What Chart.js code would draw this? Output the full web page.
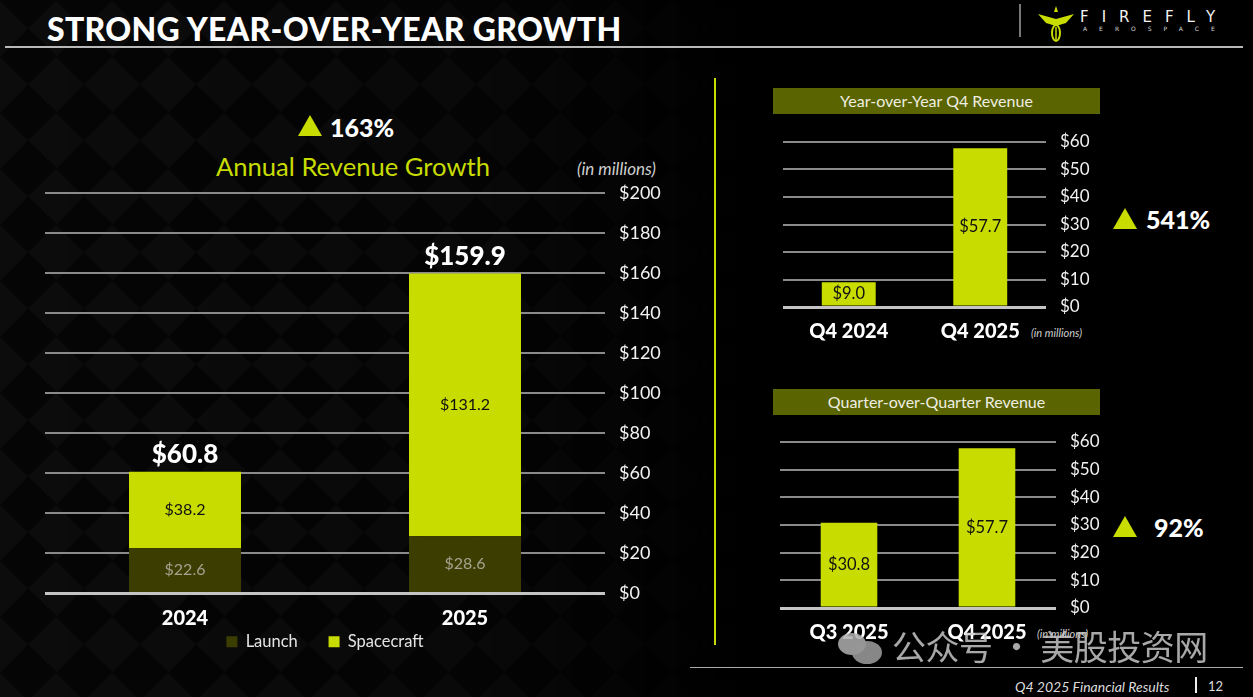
<!DOCTYPE html>
<html>
<head>
<meta charset="utf-8">
<script src="https://cdn.jsdelivr.net/npm/chart.js@4/dist/chart.umd.min.js"></script>
<style>
  body { margin:0; width:1253px; height:697px; background:#000; overflow:hidden; position:relative; font-family: Lato, "Open Sans", sans-serif; color:#fff; }
  #bg { position:absolute; inset:0; background: conic-gradient(from 45deg, #0c0c0c 25%, #050505 0 50%, #0c0c0c 0 75%, #050505 0); background-size:56px 56px;
        -webkit-mask-image: linear-gradient(to right, #000 0%, rgba(0,0,0,0.7) 40%, transparent 60%); mask-image: linear-gradient(to right, #000 0%, rgba(0,0,0,0.7) 40%, transparent 60%); }
  .abs { position:absolute; }
  #title { left:47px; top:9px; font-size:32px; font-weight:900; letter-spacing:0.3px; white-space:nowrap; }
  #titleLine { left:5px; top:46px; width:1238px; height:2px; background:#b8b8b8; }
  #logoBar { left:1019px; top:4px; width:2px; height:33px; background:#777; }
  #ff { left:1080px; top:8px; font-size:15px; letter-spacing:13px; font-weight:400; font-family:"DejaVu Sans", sans-serif; color:#f2f2f2; }
  #aero { left:1083px; top:25px; font-size:6px; letter-spacing:12px; color:#ddd; font-family:"DejaVu Sans", sans-serif; }
  #divider { left:714px; top:78px; width:2px; height:567px; background:#c8dc00; }
  .tri { width:0; height:0; border-left:12px solid transparent; border-right:12px solid transparent; border-bottom:21px solid #c8dc00; }
  .pct { font-size:25px; font-weight:900; color:#fff; line-height:1; }
  #annual { left:216px; top:151px; font-size:25.6px; color:#c8dc00; white-space:nowrap; }
  .inm { font-style:italic; color:#cfcfcf; white-space:nowrap; }
  .head { background:#5a6400; color:#eeeee0; font-size:16px; text-align:center; line-height:26px; height:26px; width:327px; left:773px; }
  canvas { position:absolute; }
  #footLine { left:690px; top:667px; width:553px; height:1px; background:#aaa; }
  #footTxt { left:1015px; top:678px; font-size:14px; font-style:italic; color:#ddd; }
  #footBar { left:1195px; top:677px; width:2px; height:16px; background:#eee; }
  #pg { left:1208px; top:678px; font-size:13px; color:#ddd; }
  #wm { left:892px; top:626px; font-size:34px; color:rgba(205,205,205,0.82); font-family:"Noto Sans CJK SC", sans-serif; white-space:nowrap; line-height:40px; letter-spacing:-0.5px; }
  .bub { position:absolute; border-radius:50%; background:rgba(175,175,175,0.85); }
</style>
</head>
<body>
<div id="bg" class="abs"></div>

<div id="title" class="abs">STRONG YEAR-OVER-YEAR GROWTH</div>
<div id="titleLine" class="abs"></div>
<div id="logoBar" class="abs"></div>
<svg class="abs" style="left:1038px;top:6px" width="36" height="36" viewBox="0 0 36 36">
  <polygon points="18,0 20,6 16,6" fill="#c8dc00"/>
  <polygon points="0,8 18,13 36,8 28,17 18,20 8,17" fill="#c8dc00"/>
  <ellipse cx="18" cy="27" rx="4" ry="8" fill="none" stroke="#c8dc00" stroke-width="2"/>
  <line x1="18" y1="21" x2="18" y2="34" stroke="#c8dc00" stroke-width="1.5"/>
</svg>
<div id="ff" class="abs">FIREFLY</div>
<div id="aero" class="abs">AEROSPACE</div>

<div class="abs tri" style="left:298px;top:115px"></div>
<div class="abs pct" style="left:330px;top:115px">163%</div>
<div id="annual" class="abs">Annual Revenue Growth</div>
<div class="abs inm" style="left:577px;top:158px;font-size:17px">(in millions)</div>

<div id="divider" class="abs"></div>

<div class="abs head" style="top:88px">Year-over-Year Q4 Revenue</div>
<div class="abs head" style="top:389px">Quarter-over-Quarter Revenue</div>
<div class="abs inm" style="left:1031px;top:326px;font-size:11px">(in millions)</div>
<div class="abs inm" style="left:1037px;top:627px;font-size:11px">(in millions)</div>

<div class="abs tri" style="left:1113px;top:208px"></div>
<div class="abs pct" style="left:1146px;top:207px">541%</div>
<div class="abs tri" style="left:1113px;top:516px"></div>
<div class="abs pct" style="left:1154px;top:515px">92%</div>

<canvas id="annualChart" style="left:45px;top:183px;width:620px;height:477px"></canvas>
<canvas id="yoyChart" style="left:783px;top:132px;width:323px;height:215px"></canvas>
<canvas id="qoqChart" style="left:780px;top:432px;width:336px;height:216px"></canvas>

<div id="footLine" class="abs"></div>
<div id="footTxt" class="abs">Q4 2025 Financial Results</div>
<div id="footBar" class="abs"></div>
<div id="pg" class="abs">12</div>

<div class="bub" style="left:838px;top:633px;width:28px;height:22px"></div>
<div class="bub" style="left:852px;top:641px;width:30px;height:23px;background:rgba(150,150,150,0.9)"></div>
<div id="wm" class="abs">公众号 · 美股投资网</div>

<script>
// annual revenue, in millions
const years = ['2024', '2025'];
const launchRev = [22.6, 28.6];
const spacecraftRev = [38.2, 131.2];
const annualTotals = [60.8, 159.9];

// Q4 year over year
const yoyQuarters = ['Q4 2024', 'Q4 2025'];
const yoyRevenue = [9.0, 57.7];

// quarter over quarter
const qoqQuarters = ['Q3 2025', 'Q4 2025'];
const qoqRevenue = [30.8, 57.7];

const LIME = '#c8dc00';
const OLIVE = '#3b3e00';

// draws "$xx.x" in the middle of each bar, plus stack totals on top
const valueLabels = {
    id: 'valueLabels',
    afterDatasetsDraw(chart, args, opts) {
        const ctx = chart.ctx;
        ctx.save();
        ctx.textAlign = 'center';
        ctx.textBaseline = 'middle';
        chart.data.datasets.forEach((ds, i) => {
            chart.getDatasetMeta(i).data.forEach((bar, j) => {
                ctx.font = opts.font || '16px Lato';
                ctx.fillStyle = ds.labelColor || '#111';
                ctx.fillText('$' + ds.data[j].toFixed(1), bar.x, (bar.y + bar.base) / 2);
            });
        });
        if (opts.totals) {
            const last = chart.getDatasetMeta(chart.data.datasets.length - 1);
            last.data.forEach((bar, j) => {
                ctx.font = '900 26px Lato';
                ctx.fillStyle = '#fff';
                ctx.fillText('$' + opts.totals[j].toFixed(1), bar.x, bar.y - 17);
            });
        }
        ctx.restore();
    }
};

function gridColor(c) { return c.tick && c.tick.value === 0 ? '#c4c4c4' : '#8a8a8a'; }
function gridWidth(c) { return c.tick && c.tick.value === 0 ? 3 : 2; }

function yAxis(max, step, fontSize, w) {
    return {
        position: 'right', min: 0, max: max,
        border: { display: false },
        grid: { color: gridColor, lineWidth: gridWidth, drawTicks: false },
        ticks: { stepSize: step, padding: 14, color: '#f2f2f2', font: { family: 'Lato', size: fontSize }, callback: v => '$' + v },
        afterFit: s => { s.width = w; s.paddingTop = 0; s.paddingBottom = 0; }
    };
}

function xAxis(h) {
    return {
        grid: { display: false }, border: { display: false },
        ticks: { color: '#fff', padding: 5, font: { family: 'Lato', size: 20, weight: '900' } },
        afterFit: s => { s.height = h; }
    };
}

// extra room after every legend entry except the last
function spacedLabels(chart) {
    const items = Chart.defaults.plugins.legend.labels.generateLabels(chart);
    return items.map((it, i) => Object.assign(it, { text: i < items.length - 1 ? it.text + '\u2002\u2002\u2002' : it.text }));
}

new Chart(document.getElementById('annualChart'), {
    type: 'bar',
    data: {
        labels: years,
        datasets: [
            { label: 'Launch', data: launchRev, backgroundColor: OLIVE, borderWidth: 0, labelColor: '#a3a38f', barPercentage: 0.4, categoryPercentage: 1 },
            { label: 'Spacecraft', data: spacecraftRev, backgroundColor: LIME, borderWidth: 0, labelColor: '#111', barPercentage: 0.4, categoryPercentage: 1 }
        ]
    },
    options: {
        responsive: false, animation: false, devicePixelRatio: 1,
        layout: { padding: { top: 10 } },
        scales: {
            x: Object.assign(xAxis(34), { stacked: true }),
            y: Object.assign(yAxis(200, 20, 18, 60), { stacked: true })
        },
        plugins: {
            tooltip: { enabled: false },
            legend: {
                position: 'bottom', fullSize: false,
                labels: { color: '#e4e4e4', boxWidth: 11, boxHeight: 11, padding: 6, font: { family: 'Lato', size: 16.5 }, generateLabels: spacedLabels }
            },
            valueLabels: { totals: annualTotals, font: '16px Lato' }
        }
    },
    plugins: [valueLabels]
});

function smallChart(id, labels, values, w) {
    return new Chart(document.getElementById(id), {
        type: 'bar',
        data: {
            labels: labels,
            datasets: [{ label: 'Revenue', data: values, backgroundColor: LIME, borderWidth: 0, barPercentage: 0.41, categoryPercentage: 1 }]
        },
        options: {
            responsive: false, animation: false, devicePixelRatio: 1,
            layout: { padding: { top: 10 } },
            scales: { x: xAxis(40), y: yAxis(60, 10, 17, w) },
            plugins: {
                tooltip: { enabled: false },
                legend: { display: false },
                valueLabels: { font: '16.5px Lato' }
            }
        },
        plugins: [valueLabels]
    });
}

smallChart('yoyChart', yoyQuarters, yoyRevenue, 60);
smallChart('qoqChart', qoqQuarters, qoqRevenue, 60);
</script>
</body>
</html>
